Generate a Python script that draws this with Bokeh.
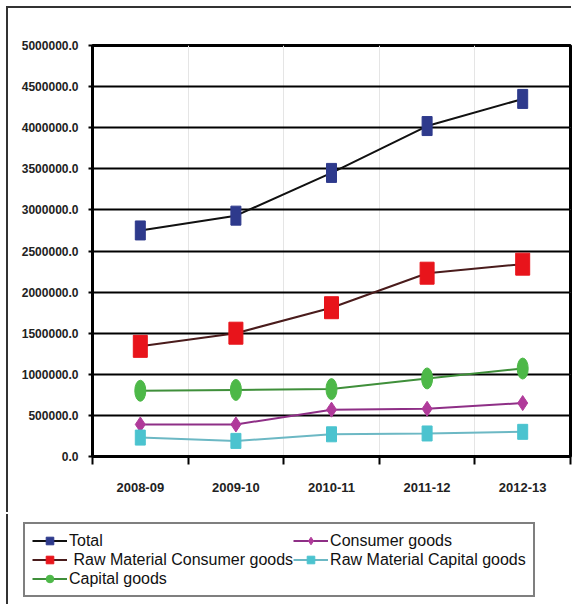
from bokeh.plotting import figure
from bokeh.models import (Range1d, LinearAxis, FixedTicker,
                          NumeralTickFormatter, Legend, LegendItem, Grid, CustomJSTickFormatter)
from bokeh.embed import file_html
from bokeh.resources import INLINE

# ---- data ----
years = ["2008-09", "2009-10", "2010-11", "2011-12", "2012-13"]
total = [2750000, 2930000, 3450000, 4020000, 4350000]
raw_consumer = [1340000, 1500000, 1810000, 2230000, 2340000]
capital = [800000, 810000, 820000, 950000, 1070000]
consumer = [390000, 390000, 570000, 580000, 650000]
raw_capital = [230000, 190000, 270000, 280000, 300000]
y_ticks = [0, 500000, 1000000, 1500000, 2000000, 2500000, 3000000, 3500000, 4000000, 4500000, 5000000]
labels = ["Total", "\u00a0Raw Material Consumer goods", "Capital goods",
          "Consumer goods", "Raw Material Capital goods"]

FONT = "Liberation Sans"

# category slots: each year occupies one unit, marks sit at the slot centre
xs = [i + 0.5 for i in range(len(years))]
bounds = list(range(len(years) + 1))

p = figure(width=565, height=506, x_range=Range1d(0, len(years)), y_range=Range1d(0, 5000000),
           output_backend="svg", toolbar_location=None, x_axis_location=None, y_axis_location=None,
           min_border_left=84, min_border_top=37, min_border_right=3, min_border_bottom=58)
p.outline_line_color = "black"
p.outline_line_width = 3
p.background_fill_color = "white"
p.border_fill_color = "white"
p.styles = {"margin": "8px 0 0 8px", "box-shadow": "-2px -2px 0 0 #333"}

yaxis = LinearAxis(ticker=FixedTicker(ticks=y_ticks), formatter=NumeralTickFormatter(format="0.0"),
                   axis_line_color="black", axis_line_width=3,
                   major_tick_line_color="black", major_tick_line_width=2,
                   major_tick_out=4, major_tick_in=0, minor_tick_line_color=None,
                   major_label_text_font=FONT, major_label_text_font_style="bold",
                   major_label_text_font_size="12px", major_label_text_color="#222",
                   major_label_standoff=10)
p.add_layout(yaxis, "left")

tick_axis = LinearAxis(ticker=FixedTicker(ticks=bounds),
                       formatter=CustomJSTickFormatter(code="return ''"),
                       axis_line_color="black", axis_line_width=3,
                       major_tick_line_color="black", major_tick_line_width=2,
                       major_tick_out=8, major_tick_in=0, minor_tick_line_color=None,
                       major_label_standoff=0, major_label_text_font_size="1px")
p.add_layout(tick_axis, "below")

xaxis = LinearAxis(ticker=FixedTicker(ticks=xs),
                   major_label_overrides={x: y for x, y in zip(xs, years)},
                   axis_line_color=None, major_tick_line_color=None, minor_tick_line_color=None,
                   major_tick_out=0, major_tick_in=0,
                   major_label_text_font=FONT, major_label_text_font_style="bold",
                   major_label_text_font_size="13px", major_label_text_color="#222",
                   major_label_standoff=18)
p.add_layout(xaxis, "below")

p.add_layout(Grid(dimension=1, ticker=FixedTicker(ticks=y_ticks),
                  grid_line_color="black", grid_line_width=2))

series = [
    (total, "#2E3A8C", "#111111", "square", 10, 19),
    (raw_consumer, "#E8141B", "#4a1c1c", "square", 14, 22),
    (capital, "#4DB848", "#3f8f3a", "circle", 11, 21),
    (consumer, "#B03A9A", "#8e2f86", "diamond", 10, 15),
    (raw_capital, "#4BC3CF", "#6cb8c4", "square", 10, 15),
]

# legend strip below the chart (its own root, so its frame starts at the left edge)
q = figure(width=565, height=90, x_range=Range1d(0, 1), y_range=Range1d(0, 1),
           output_backend="svg", toolbar_location=None, x_axis_location=None, y_axis_location=None,
           min_border_left=0, min_border_right=0, min_border_top=0, min_border_bottom=0)
q.outline_line_color = None
q.background_fill_color = "white"
q.border_fill_color = "white"
q.xgrid.visible = False
q.ygrid.visible = False
q.styles = {"margin": "0 0 0 8px", "box-shadow": "-2px 0 0 0 #333"}

items = []
for (vals, mc, lc, mk, w, h), lab in zip(series, labels):
    p.line(xs, vals, line_color=lc, line_width=2)
    if mk == "diamond":
        p.scatter(xs, vals, marker="diamond", size=h, fill_color=mc, line_color=mc)
    elif mk == "circle":
        p.ellipse(xs, vals, width=w, height=h, width_units="screen", height_units="screen",
                  fill_color=mc, line_color=mc)
    else:
        p.rect(xs, vals, width=w, height=h, width_units="screen", height_units="screen",
               fill_color=mc, line_color=mc)
    # same series in the legend strip (outside its visible range) so the legend has swatches
    ql = q.line(xs, vals, line_color=lc, line_width=2)
    qm = q.scatter(xs, vals, marker=mk, fill_color=mc, line_color=mc)
    items.append(LegendItem(label=lab, renderers=[ql, qm]))

legend = Legend(items=items, location=(15, 7), nrows=3,
                label_text_font=FONT, label_text_font_size="16px", label_text_color="#111",
                label_standoff=2, glyph_width=35, glyph_height=19, label_height=19,
                spacing=0, padding=7, margin=0,
                border_line_color="black", border_line_width=2,
                background_fill_color="white", background_fill_alpha=1)
q.add_layout(legend, "center")

open("out.html", "w").write(file_html([p, q], INLINE))
